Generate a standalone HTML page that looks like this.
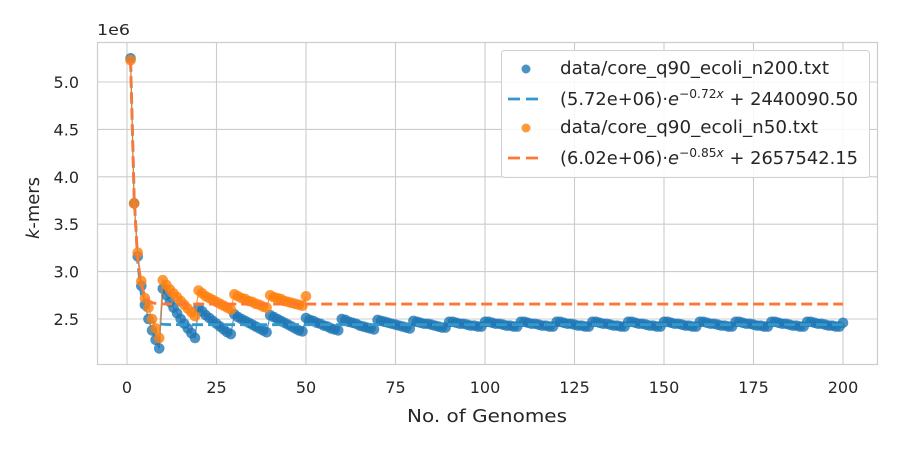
<!DOCTYPE html>
<html><head><meta charset="utf-8"><style>
body{margin:0;background:#fff;}
svg text{font-family:"DejaVu Sans","Liberation Sans",sans-serif;fill:#262626;}
</style></head><body>
<svg id="chart" width="900" height="450" viewBox="0 0 900 450" xmlns="http://www.w3.org/2000/svg">
<rect x="0" y="0" width="900" height="450" fill="#fff"/>
<g id="grid"></g>
<rect x="97.5" y="42.5" width="780" height="322" fill="none" stroke="#cccccc" stroke-width="1.2"/>
<g id="marks"></g>
<g id="ticks"></g>
<text x="97" y="35" font-size="15.5" textLength="33" lengthAdjust="spacingAndGlyphs">1e6</text>
<text x="407" y="422" font-size="18" textLength="160" lengthAdjust="spacingAndGlyphs">No. of Genomes</text>
<text transform="translate(39,239) rotate(-90)" font-size="18" textLength="62" lengthAdjust="spacingAndGlyphs"><tspan font-style="italic">k</tspan>-mers</text>
<g>
<rect x="501.5" y="50.5" width="368" height="127" rx="3" fill="#fff" fill-opacity="0.85" stroke="#d0d0d0"/>
<circle cx="526" cy="69" r="4.5" fill="#1f77b4" fill-opacity="0.8"/>
<text x="560" y="74" font-size="17.5" textLength="269" lengthAdjust="spacingAndGlyphs">data/core_q90_ecoli_n200.txt</text>
<line x1="508" y1="99" x2="542" y2="99" stroke="#3399cc" stroke-width="2.8" stroke-dasharray="12,6"/>
<text x="560" y="105" font-size="17.5" textLength="298" lengthAdjust="spacingAndGlyphs">(5.72e+06)·<tspan font-style="italic">e</tspan><tspan dy="-7" font-size="12">−0.72<tspan font-style="italic">x</tspan></tspan><tspan dy="7"> + 2440090.50</tspan></text>
<circle cx="526" cy="128" r="4.5" fill="#ff7f0e" fill-opacity="0.8"/>
<text x="560" y="133" font-size="17.5" textLength="258" lengthAdjust="spacingAndGlyphs">data/core_q90_ecoli_n50.txt</text>
<line x1="508" y1="158" x2="542" y2="158" stroke="#ff7733" stroke-width="2.8" stroke-dasharray="12,6"/>
<text x="560" y="164" font-size="17.5" textLength="298" lengthAdjust="spacingAndGlyphs">(6.02e+06)·<tspan font-style="italic">e</tspan><tspan dy="-7" font-size="12">−0.85<tspan font-style="italic">x</tspan></tspan><tspan dy="7"> + 2657542.15</tspan></text>
</g>
</svg>
<script>
const xTicks=[0,25,50,75,100,125,150,175,200];
const yTicks=[2.5,3.0,3.5,4.0,4.5,5.0];
const yTickLabels=["2.5","3.0","3.5","4.0","4.5","5.0"];
const blueValues=[5.25,3.72,3.16,2.85,2.65,2.50,2.38,2.28,2.19,
2.82,2.75,2.68,2.62,2.56,2.50,2.45,2.40,2.35,2.30,
2.62,2.58,2.54,2.51,2.48,2.45,2.42,2.39,2.36,2.34,
2.55,2.52,2.50,2.48,2.46,2.44,2.42,2.40,2.38,2.36,
2.54,2.52,2.50,2.48,2.46,2.44,2.42,2.40,2.38,2.37,
2.51,2.49,2.48,2.46,2.45,2.43,2.42,2.40,2.39,2.38,
2.50,2.49,2.47,2.46,2.45,2.43,2.42,2.41,2.40,2.39,
2.49,2.48,2.47,2.46,2.45,2.44,2.43,2.42,2.41,2.40,
2.48,2.47,2.46,2.45,2.45,2.44,2.43,2.42,2.41,2.41,
2.47,2.47,2.46,2.45,2.45,2.44,2.43,2.43,2.42,2.42,
2.47,2.47,2.46,2.45,2.45,2.44,2.43,2.43,2.42,2.42,
2.47,2.47,2.46,2.45,2.45,2.44,2.43,2.43,2.42,2.42,
2.47,2.47,2.46,2.45,2.45,2.44,2.43,2.43,2.42,2.42,
2.47,2.47,2.46,2.45,2.45,2.44,2.43,2.43,2.42,2.42,
2.47,2.47,2.46,2.45,2.45,2.44,2.43,2.43,2.42,2.42,
2.47,2.47,2.46,2.45,2.45,2.44,2.43,2.43,2.42,2.42,
2.47,2.47,2.46,2.45,2.45,2.44,2.43,2.43,2.42,2.42,
2.47,2.47,2.46,2.45,2.45,2.44,2.43,2.43,2.42,2.42,
2.47,2.47,2.46,2.45,2.45,2.44,2.43,2.43,2.42,2.42,
2.47,2.47,2.46,2.45,2.45,2.44,2.43,2.43,2.42,2.42,
2.46];
const orangeValues=[5.23,3.72,3.20,2.90,2.72,2.62,2.50,2.40,2.30,
2.91,2.86,2.81,2.77,2.73,2.69,2.65,2.61,2.57,2.53,
2.80,2.77,2.74,2.72,2.70,2.68,2.66,2.64,2.62,2.60,
2.76,2.74,2.72,2.71,2.69,2.68,2.66,2.65,2.63,2.62,
2.75,2.73,2.72,2.71,2.69,2.68,2.67,2.66,2.65,2.64,
2.74];
const blueFit=[5.72,0.72,2.44009050];
const orangeFit=[6.02,0.85,2.65754215];
const fitXMax=200;

const NS="http://www.w3.org/2000/svg";
const xS=v=>127+v*3.58;
const yS=v=>319-(v-2.5)*94.8;
function mk(tag,attrs,parent){const e=document.createElementNS(NS,tag);for(const k in attrs)e.setAttribute(k,attrs[k]);parent.appendChild(e);return e;}
const grid=document.getElementById('grid'),ticks=document.getElementById('ticks'),marks=document.getElementById('marks');
xTicks.forEach(t=>{
  const l=mk('line',{x1:xS(t),x2:xS(t),y1:42,y2:365,stroke:'#cccccc','stroke-width':1.1},grid);
  
  
  const tx=mk('text',{x:xS(t),y:393,'font-size':16,'text-anchor':'middle'},ticks);
  tx.textContent=t;
  
  
});
yTicks.forEach((t,i)=>{
  const l=mk('line',{x1:97,x2:878,y1:yS(t),y2:yS(t),stroke:'#cccccc','stroke-width':1.1},grid);
  
  
  const tx=mk('text',{x:79,y:yS(t)+6,'font-size':16,'text-anchor':'end'},ticks);
  tx.textContent=yTickLabels[i];
  
  
});
function series(vals,color,fit,fitColor,name){
  const pts=vals.map((v,i)=>xS(i+1)+','+yS(v)).join(' ');
  const pl=mk('polyline',{points:pts,fill:'none',stroke:color,'stroke-width':1.2,'stroke-opacity':0.8},marks);
  
  
  vals.forEach((v,i)=>{
    const c=mk('circle',{cx:xS(i+1),cy:yS(v),r:5.3,fill:color,'fill-opacity':0.8},marks);
    
    
  });
  const fp=[];
  for(let x=1;x<=fitXMax;x++){const y=fit[0]*Math.exp(-fit[1]*x)+fit[2];fp.push(xS(x)+','+yS(y));}
  const f=mk('polyline',{points:fp.join(' '),fill:'none',stroke:fitColor,'stroke-width':2.8,'stroke-dasharray':'11,5'},marks);
  
  
}
series(blueValues,'#1f77b4',blueFit,'#3399cc','n200');
series(orangeValues,'#ff7f0e',orangeFit,'#ff7733','n50');
</script>
</body></html>
